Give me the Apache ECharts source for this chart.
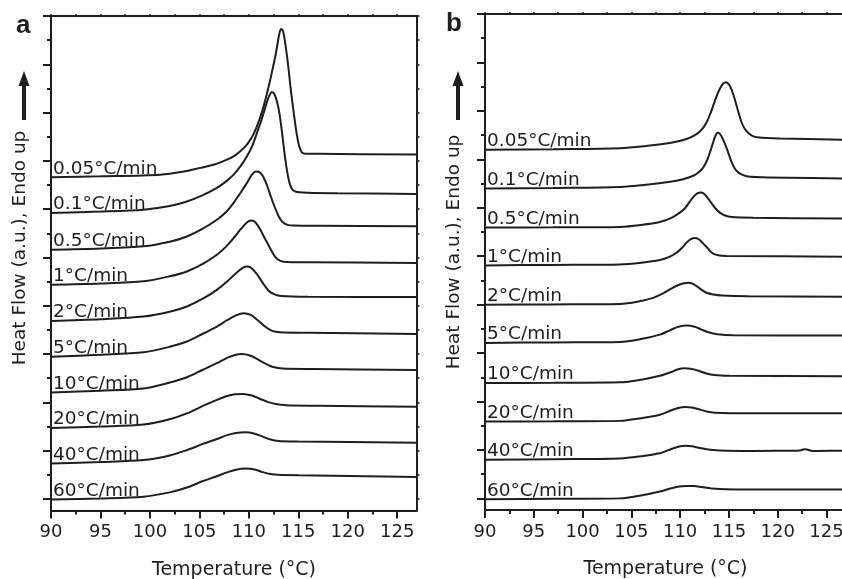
<!DOCTYPE html>
<html>
<head>
<meta charset="utf-8">
<script src="https://cdn.jsdelivr.net/npm/echarts@6.0.0/dist/echarts.min.js"></script>
<style>
  html, body { margin: 0; padding: 0; background: #fff; }
  #chart { width: 842px; height: 579px; }
</style>
</head>
<body>
<div id="chart"></div>
<script>
const rates = ['0.05°C/min', '0.1°C/min', '0.5°C/min', '1°C/min', '2°C/min',
  '5°C/min', '10°C/min', '20°C/min', '40°C/min', '60°C/min']

// panel a: [temperature (°C), heat flow (a.u., stacked offset)]
const a005 = [[90, 13.32], [95, 13.36], [101.04, 13.43], [103.3, 13.55], [105.09, 13.71], [106.6, 13.86], [107.79, 14.05], [108.5, 14.2], [109.14, 14.40], [109.7, 14.62], [110.15, 14.88], [110.5, 15.13], [110.82, 15.44], [111.17, 15.83], [111.5, 16.27], [111.85, 16.82], [112.17, 17.37], [112.45, 17.9], [112.68, 18.34], [112.88, 18.8], [113.05, 19.2], [113.26, 19.46], [113.45, 19.38], [113.65, 18.95], [113.86, 18.34], [114.03, 17.75], [114.2, 17.10], [114.37, 16.52], [114.54, 15.99], [114.71, 15.47], [114.88, 15.02], [115.05, 14.68], [115.21, 14.47], [115.4, 14.34], [115.7, 14.30], [117, 14.29], [127, 14.26]]
const a01 = [[90, 11.84], [95, 11.90], [99.35, 11.98], [102, 12.13], [103.74, 12.32], [105.3, 12.57], [106.77, 12.88], [107.7, 13.15], [108.46, 13.43], [109.2, 13.8], [109.81, 14.19], [110.35, 14.62], [110.82, 15.16], [111.2, 15.6], [111.5, 15.99], [111.8, 16.4], [112.05, 16.68], [112.34, 16.85], [112.6, 16.75], [112.85, 16.45], [113.1, 15.95], [113.36, 15.16], [113.69, 14.05], [114.03, 13.22], [114.3, 12.88], [114.7, 12.73], [116, 12.68], [119, 12.66], [127, 12.63]]
const a05 = [[90, 10.32], [95, 10.37], [99.35, 10.46], [102, 10.65], [103.74, 10.87], [105.3, 11.18], [106.77, 11.56], [107.7, 11.88], [108.46, 12.26], [109.2, 12.7], [109.81, 13.09], [110.3, 13.42], [110.7, 13.56], [111.0, 13.55], [111.4, 13.38], [111.84, 12.98], [112.2, 12.55], [112.6, 12.1], [113.0, 11.72], [113.4, 11.47], [113.9, 11.35], [114.6, 11.32], [117, 11.31], [127, 11.29]]
const a1 = [[90, 8.87], [95, 8.92], [99.35, 9.01], [102, 9.22], [103.74, 9.42], [105.3, 9.72], [106.77, 10.11], [107.7, 10.45], [108.46, 10.80], [109.2, 11.18], [109.8, 11.45], [110.2, 11.53], [110.6, 11.48], [111.1, 11.2], [111.6, 10.8], [112.17, 10.37], [112.7, 10.0], [113.2, 9.86], [113.8, 9.81], [116, 9.80], [127, 9.77]]
const a2 = [[90, 7.37], [95, 7.44], [99.35, 7.55], [102, 7.75], [103.74, 7.97], [105.3, 8.28], [106.77, 8.66], [107.8, 9.0], [108.7, 9.35], [109.3, 9.55], [109.74, 9.63], [110.2, 9.58], [110.8, 9.32], [111.4, 8.95], [112.0, 8.62], [112.6, 8.47], [113.3, 8.40], [116, 8.37], [127, 8.36]]
const a5 = [[90, 5.89], [95, 5.97], [99.35, 6.07], [102, 6.30], [103.74, 6.52], [105.3, 6.83], [106.77, 7.14], [107.8, 7.40], [108.7, 7.60], [109.47, 7.69], [110.2, 7.62], [110.9, 7.40], [111.6, 7.15], [112.3, 6.97], [113.1, 6.90], [116, 6.88], [127, 6.83]]
const a10 = [[90, 4.41], [95, 4.48], [99.35, 4.57], [102, 4.82], [103.74, 5.04], [105.3, 5.34], [106.77, 5.62], [107.8, 5.84], [108.6, 5.96], [109.31, 6.00], [110.1, 5.94], [110.9, 5.78], [111.7, 5.60], [112.5, 5.46], [113.4, 5.40], [116.5, 5.38], [127, 5.34]]
const a20 = [[90, 2.94], [95, 3.00], [99.35, 3.08], [102, 3.30], [103.74, 3.54], [105.3, 3.84], [106.77, 4.10], [107.8, 4.26], [108.6, 4.33], [109.47, 4.35], [110.3, 4.28], [111.1, 4.15], [111.9, 4.02], [112.7, 3.93], [113.8, 3.88], [117, 3.86], [127, 3.82]]
const a40 = [[90, 1.47], [95, 1.53], [99.35, 1.61], [102, 1.80], [103.74, 2.02], [105.3, 2.27], [106.77, 2.48], [107.8, 2.64], [108.7, 2.73], [109.64, 2.76], [110.6, 2.70], [111.4, 2.58], [112.2, 2.46], [113, 2.40], [115, 2.38], [127, 2.33]]
const a60 = [[90, -0.02], [95, 0.02], [99.35, 0.09], [102, 0.27], [103.74, 0.47], [105.3, 0.73], [106.77, 0.94], [107.8, 1.10], [108.7, 1.21], [109.64, 1.26], [110.6, 1.22], [111.4, 1.11], [112.2, 1.03], [113, 1.00], [115, 0.98], [127, 0.91]]

// panel b
const b005 = [[90, 14.39], [97, 14.42], [103.83, 14.46], [106.5, 14.55], [108.95, 14.67], [110.66, 14.84], [111.68, 15.04], [112.3, 15.27], [112.71, 15.53], [113.05, 15.84], [113.39, 16.22], [113.75, 16.62], [114.07, 16.91], [114.4, 17.12], [114.69, 17.18], [114.98, 17.10], [115.27, 16.88], [115.55, 16.55], [115.78, 16.22], [116.03, 15.87], [116.29, 15.53], [116.6, 15.27], [116.97, 15.10], [117.4, 14.97], [117.9, 14.91], [120.22, 14.86], [127, 14.81]]
const b01 = [[90, 12.79], [97, 12.82], [103.83, 12.86], [106.5, 12.95], [108.95, 13.07], [110.3, 13.18], [111.34, 13.32], [111.9, 13.47], [112.36, 13.66], [112.75, 13.95], [113.05, 14.28], [113.35, 14.66], [113.56, 14.91], [113.83, 15.10], [114.05, 15.06], [114.3, 14.90], [114.55, 14.68], [114.8, 14.42], [115.05, 14.14], [115.3, 13.86], [115.6, 13.62], [115.95, 13.46], [116.4, 13.36], [116.97, 13.29], [118.5, 13.26], [120.9, 13.24], [127, 13.21]]
const b05 = [[90, 11.18], [97, 11.19], [103.83, 11.21], [106, 11.29], [107.92, 11.41], [109.1, 11.58], [109.97, 11.80], [110.5, 11.98], [111.0, 12.26], [111.4, 12.47], [111.8, 12.60], [112.12, 12.63], [112.45, 12.58], [112.8, 12.42], [113.2, 12.2], [113.6, 11.98], [114.07, 11.80], [114.6, 11.68], [115.3, 11.62], [117.48, 11.59], [127, 11.55]]
const b1 = [[90, 9.62], [97, 9.64], [103.83, 9.66], [106, 9.73], [107.92, 9.84], [108.9, 9.97], [109.63, 10.14], [110.2, 10.35], [110.66, 10.56], [111.1, 10.70], [111.51, 10.75], [111.9, 10.70], [112.3, 10.55], [112.87, 10.31], [113.3, 10.13], [113.9, 10.04], [114.75, 10.01], [127, 9.98]]
const b2 = [[90, 8.00], [97, 8.01], [103.83, 8.03], [105.6, 8.12], [107.24, 8.28], [108.2, 8.45], [108.95, 8.63], [109.7, 8.79], [110.4, 8.88], [110.93, 8.90], [111.5, 8.82], [112.1, 8.64], [112.71, 8.49], [113.4, 8.42], [114.3, 8.38], [117, 8.35], [127, 8.32]]
const b5 = [[90, 6.42], [97, 6.44], [103.83, 6.46], [106, 6.58], [107.92, 6.76], [109.0, 6.95], [109.8, 7.08], [110.66, 7.14], [111.5, 7.09], [112.2, 6.97], [112.9, 6.86], [113.8, 6.78], [115.5, 6.74], [127, 6.72]]
const b10 = [[90, 4.76], [97, 4.77], [103.83, 4.79], [106, 4.90], [107.92, 5.06], [109.1, 5.22], [109.8, 5.33], [110.4, 5.37], [111.1, 5.35], [111.8, 5.28], [112.6, 5.17], [113.5, 5.09], [115.09, 5.06], [127, 5.04]]
const b20 = [[90, 3.17], [97, 3.18], [103.83, 3.20], [106, 3.31], [107.92, 3.45], [109.1, 3.64], [109.9, 3.74], [110.5, 3.77], [111.2, 3.75], [111.9, 3.68], [112.7, 3.59], [113.6, 3.54], [115.09, 3.52], [127, 3.52]]
const b40 = [[90, 1.59], [97, 1.62], [103.83, 1.65], [106, 1.74], [107.92, 1.86], [109.1, 2.04], [109.9, 2.14], [110.5, 2.17], [111.2, 2.15], [111.9, 2.09], [112.7, 2.03], [114, 1.98], [117.48, 1.96], [122.0, 1.97], [122.4, 1.99], [122.7, 2.03], [123.0, 2.02], [123.4, 1.97], [124, 1.96], [127, 1.97]]
const b60 = [[90, -0.04], [97, -0.02], [103.83, 0.00], [106, 0.12], [107.92, 0.28], [109.1, 0.42], [109.9, 0.49], [110.6, 0.51], [111.4, 0.51], [112.2, 0.47], [113.2, 0.41], [115.78, 0.37], [127, 0.37]]

const curvesA = [a005, a01, a05, a1, a2, a5, a10, a20, a40, a60]
const curvesB = [b005, b01, b05, b1, b2, b5, b10, b20, b40, b60]

const xMajor = [90, 95, 100, 105, 110, 115, 120, 125]
const xMinor = [92.5, 97.5, 102.5, 107.5, 112.5, 117.5, 122.5]
const yMajor = [0, 2, 4, 6, 8, 10, 12, 14, 16, 18, 20]
const yMinor = [1, 3, 5, 7, 9, 11, 13, 15, 17, 19]
const xMin = 90, xMax = 127, yMin = -0.48, yMax = 20

const ink = '#1e1e1e'
const font = 'DejaVu Sans'
const axisLineStyle = { color: ink, width: 2 }

const chart = echarts.init(document.getElementById('chart'))

function xAxes(g) {
  const base = { type: 'value', gridIndex: g, min: xMin, max: xMax, splitLine: { show: false } }
  return [
    {
      ...base, position: 'bottom',
      axisLine: { onZero: false, lineStyle: axisLineStyle },
      axisTick: { customValues: xMajor, length: 8, lineStyle: axisLineStyle },
      axisLabel: { customValues: xMajor, margin: 13, color: ink, fontFamily: font, fontSize: 18 },
      name: 'Temperature (°C)', nameLocation: 'middle', nameGap: 50,
      nameTextStyle: { color: ink, fontFamily: font, fontSize: 19 }
    },
    {
      ...base, position: 'bottom',
      axisLine: { show: false, onZero: false },
      axisTick: { customValues: xMinor, length: 4, lineStyle: axisLineStyle },
      axisLabel: { show: false }
    },
    {
      ...base, position: 'top',
      axisLine: { onZero: false, lineStyle: axisLineStyle },
      axisTick: { customValues: xMajor.concat(xMinor), length: 2, lineStyle: { color: ink, width: 1.5 } },
      axisLabel: { show: false }
    }
  ]
}

function yAxes(g) {
  const base = { type: 'value', gridIndex: g, min: yMin, max: yMax, splitLine: { show: false }, axisLabel: { show: false } }
  return [
    {
      ...base, position: 'left',
      axisLine: { onZero: false, lineStyle: axisLineStyle },
      axisTick: { customValues: yMajor, length: 8, lineStyle: axisLineStyle }
    },
    {
      ...base, position: 'left',
      axisLine: { show: false, onZero: false },
      axisTick: { customValues: yMinor, length: 4, lineStyle: axisLineStyle }
    },
    {
      ...base, position: 'right',
      axisLine: { onZero: false, lineStyle: axisLineStyle },
      axisTick: { customValues: yMajor.concat(yMinor), length: 2.5, lineStyle: { color: ink, width: 1.5 } }
    }
  ]
}

function makeSeries(curves, g) {
  return curves.map((pts, i) => ({
    type: 'line',
    xAxisIndex: g * 3,
    yAxisIndex: g * 3,
    symbol: 'none',
    showSymbol: true,
    smooth: 0.3,
    clip: false,
    silent: true,
    lineStyle: { color: ink, width: 2 },
    label: { show: false, color: ink, fontFamily: font, fontSize: 18.5 },
    data: pts.map((p, j) => j === 0 ? {
      value: p, symbol: 'circle', symbolSize: 0,
      label: { show: true, formatter: rates[i], position: [2, 1], align: 'left', verticalAlign: 'bottom' }
    } : p)
  }))
}

const option = {
  animation: false,
  grid: [
    { left: 51, top: 16, width: 366, height: 494.5, outerBoundsMode: 'none' },
    { left: 485, top: 14, width: 361, height: 496, outerBoundsMode: 'none' }
  ],
  xAxis: xAxes(0).concat(xAxes(1)),
  yAxis: yAxes(0).concat(yAxes(1)),
  series: makeSeries(curvesA, 0).concat(makeSeries(curvesB, 1)),
  graphic: [
    { type: 'text', x: 16, y: 26, style: { text: 'a', font: 'bold 26px "Liberation Sans"', fill: ink, align: 'left', verticalAlign: 'middle' } },
    { type: 'text', x: 446, y: 24, style: { text: 'b', font: 'bold 26px "Liberation Sans"', fill: ink, align: 'left', verticalAlign: 'middle' } },
    { type: 'text', x: 20, y: 248, rotation: Math.PI / 2, style: { text: 'Heat Flow (a.u.), Endo up', font: '18.5px "DejaVu Sans"', fill: ink, align: 'center', verticalAlign: 'middle' } },
    { type: 'text', x: 454, y: 252, rotation: Math.PI / 2, style: { text: 'Heat Flow (a.u.), Endo up', font: '18.5px "DejaVu Sans"', fill: ink, align: 'center', verticalAlign: 'middle' } },
    { type: 'polygon', shape: { points: [[24, 71], [29.5, 86], [26, 86], [26, 120], [22, 120], [22, 86], [18.5, 86]] }, style: { fill: ink } },
    { type: 'polygon', shape: { points: [[458, 71], [463.5, 86], [460, 86], [460, 120], [456, 120], [456, 86], [452.5, 86]] }, style: { fill: ink } }
  ]
}

chart.setOption(option)
</script>
</body>
</html>
